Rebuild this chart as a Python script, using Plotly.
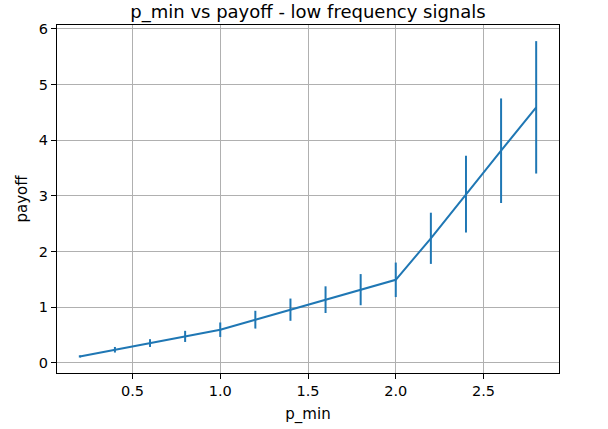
import plotly.graph_objects as go

p_min = [0.2, 0.4, 0.6, 0.8, 1.0, 1.2, 1.4, 1.6, 1.8, 2.0, 2.2, 2.4, 2.6, 2.8]
payoff = [0.113, 0.233, 0.353, 0.473, 0.593, 0.773, 0.953, 1.133, 1.313, 1.49, 2.236, 3.03, 3.81, 4.59]
payoff_err = [0.02, 0.05, 0.07, 0.10, 0.13, 0.16, 0.20, 0.24, 0.28, 0.31, 0.46, 0.69, 0.94, 1.19]

x_ticks = [0.5, 1.0, 1.5, 2.0, 2.5]
x_ticklabels = ["0.5", "1.0", "1.5", "2.0", "2.5"]
y_ticks = [0, 1, 2, 3, 4, 5, 6]

blue = "#1f77b4"
font = "DejaVu Sans"

fig = go.Figure()
fig.add_trace(go.Scatter(
    x=p_min, y=payoff, mode="lines",
    line=dict(color=blue, width=2),
    error_y=dict(type="data", array=payoff_err, visible=True,
                 color=blue, thickness=2, width=0),
    showlegend=False,
))

axis_common = dict(
    showgrid=True, gridcolor="#b0b0b0", gridwidth=1,
    showline=True, linecolor="black", linewidth=1, mirror=True,
    ticks="outside", ticklen=5, tickwidth=1, tickcolor="black",
    zeroline=False, automargin=False,
    tickfont=dict(family=font, size=14.5, color="black"),
)

fig.update_layout(
    width=608, height=429,
    margin=dict(l=57, r=49, t=25, b=56, autoexpand=False),
    paper_bgcolor="white", plot_bgcolor="white",
    font=dict(family=font, color="black"),
    title=dict(text="p_min vs payoff - low frequency signals",
               x=0.5, xref="paper", xanchor="center",
               y=1 - 12/429, yref="container", yanchor="middle",
               font=dict(family=font, size=18, color="black"),
               automargin=False),
    xaxis=dict(range=[0.07, 2.93], tickvals=x_ticks, ticktext=x_ticklabels,
               title=dict(text="p_min", font=dict(family=font, size=15), standoff=10),
               **axis_common),
    yaxis=dict(range=[-0.185, 6.07], tickvals=y_ticks,
               title=dict(text="payoff", font=dict(family=font, size=15), standoff=7),
               **axis_common),
)

fig.write_html("out.html")
